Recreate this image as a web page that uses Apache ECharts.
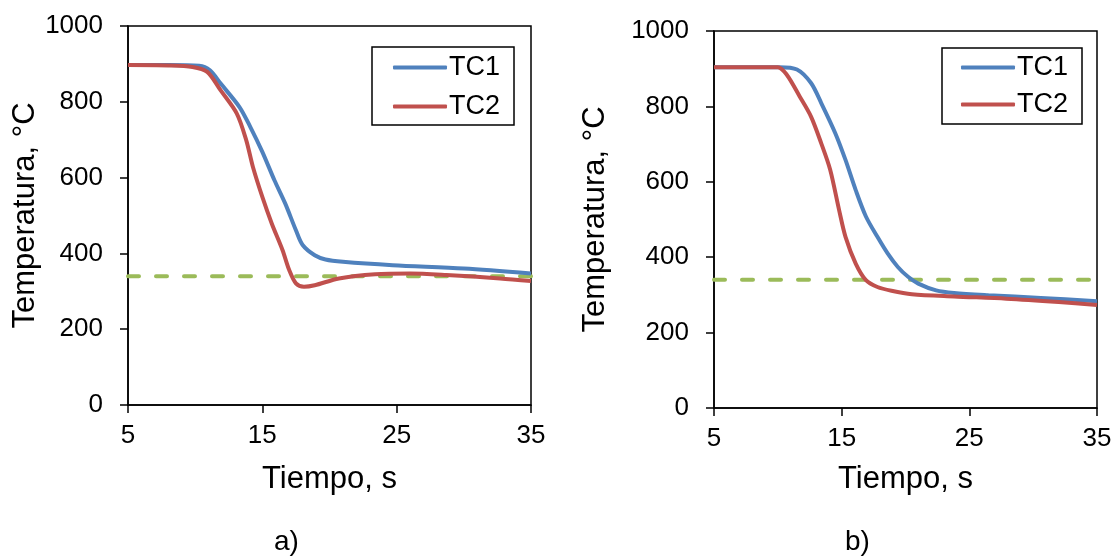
<!DOCTYPE html>
<html>
<head>
<meta charset="utf-8">
<script src="https://cdn.jsdelivr.net/npm/echarts@6/dist/echarts.min.js"></script>
<style>
  html, body { margin: 0; padding: 0; background: #fff; }
  #chart { width: 1117px; height: 556px; }
</style>
</head>
<body>
<div id="chart"></div>
<script>
// Cooling curves, panel a): [time s, temperature °C]
const tc1A = [[5,897],[8,897],[10.3,895],[11.1,883],[11.9,848],[13.3,786],[14.1,734],[15.0,668],[15.9,593],[16.7,532],[17.5,461],[18.0,422],[18.9,395],[19.7,384],[21.0,378],[24.7,369],[30.0,360],[35,347]];
const tc2A = [[5,897],[8,896],[9.8,892],[10.9,879],[11.9,830],[13.1,769],[13.8,699],[14.3,628],[15.0,549],[15.7,479],[16.5,409],[17.0,356],[17.5,321],[18.1,312],[18.9,316],[20.7,334],[23.4,345],[26.0,347],[28.7,343],[32.7,334],[35,327]];

// Cooling curves, panel b)
const tc1B = [[5,904],[10.1,904],[11.5,898],[12.6,862],[13.4,809],[14.5,729],[15.3,658],[16.1,578],[16.9,508],[17.8,454],[18.6,410],[19.4,374],[20.2,348],[21.0,330],[22.4,312],[23.8,305],[26.5,299],[30.6,292],[35,283]];
const tc2B = [[5,904],[10.0,904],[10.7,884],[11.7,827],[12.6,773],[13.4,702],[14.1,632],[14.8,525],[15.3,454],[16.1,383],[16.9,339],[17.8,321],[18.9,311],[20.5,302],[23.8,296],[27.9,290],[32.0,281],[35,273]];

// Reference temperature (dashed line)
const thresholdA = [[5,340],[35,340]];
const thresholdB = [[5,340],[35,340]];

const xTicks = [5, 15, 25, 35];
const yTicks = [0, 200, 400, 600, 800, 1000];
const seriesNames = ['TC1', 'TC2'];
const captions = ['a)', 'b)'];

const FONT = '"Liberation Sans", Arial, sans-serif';
const BLUE = '#4F81BD', RED = '#C0504D', GREEN = '#9BBB59';

const chart = echarts.init(document.getElementById('chart'));

function xAxisDef(gridIndex, gap) {
  return {
    gridIndex, type: 'value', min: xTicks[0], max: xTicks[xTicks.length - 1], interval: 10,
    name: 'Tiempo, s', nameLocation: 'middle', nameGap: gap,
    nameTextStyle: { fontFamily: FONT, fontSize: 31, color: '#000' },
    axisLine: { lineStyle: { color: '#000', width: 1.5 } },
    axisTick: { show: true, length: 8, inside: false, lineStyle: { color: '#000', width: 1.5 } },
    axisLabel: { margin: 18, fontFamily: FONT, fontSize: 26, color: '#000', formatter: v => String(v) },
    splitLine: { show: false }
  };
}
function yAxisDef(gridIndex, gap) {
  return {
    gridIndex, type: 'value', min: yTicks[0], max: yTicks[yTicks.length - 1], interval: 200,
    name: 'Temperatura, °C', nameLocation: 'middle', nameGap: gap,
    nameTextStyle: { fontFamily: FONT, fontSize: 31, color: '#000' },
    axisLine: { lineStyle: { color: '#000', width: 1.5 } },
    axisTick: { show: true, length: 8, inside: false, lineStyle: { color: '#000', width: 1.5 } },
    axisLabel: { margin: 25, fontFamily: FONT, fontSize: 26, color: '#000', formatter: v => String(v) },
    splitLine: { show: false }
  };
}
function curve(name, data, color, idx) {
  return {
    name, type: 'line', data, xAxisIndex: idx, yAxisIndex: idx,
    symbol: 'none', smooth: 0.3,
    lineStyle: { color, width: 4 }, itemStyle: { color }, z: 3
  };
}
function dashed(data, idx) {
  return {
    name: 'ref', type: 'line', data, xAxisIndex: idx, yAxisIndex: idx,
    symbol: 'none', silent: true,
    lineStyle: { color: GREEN, width: 4, type: [11, 17], cap: 'round' }, z: 2
  };
}
function legendDef(left, top, padding, gap) {
  return {
    data: seriesNames.map(n => ({ name: n, icon: 'roundRect' })),
    orient: 'vertical', left, top,
    padding, itemGap: gap, itemWidth: 54, itemHeight: 4,
    borderColor: '#000', borderWidth: 1.5, borderRadius: 0,
    textStyle: { fontFamily: FONT, fontSize: 27, color: '#000', padding: [0, 0, 0, -3] },
    selectedMode: false
  };
}

chart.setOption({
  animation: false,
  backgroundColor: '#fff',
  grid: [
    { left: 128, top: 26, width: 403, height: 379, show: true, borderColor: '#000', borderWidth: 1.5, backgroundColor: 'transparent' },
    { left: 714, top: 31, width: 383, height: 377, show: true, borderColor: '#000', borderWidth: 1.5, backgroundColor: 'transparent' }
  ],
  xAxis: [xAxisDef(0, 59), xAxisDef(1, 56)],
  yAxis: [yAxisDef(0, 77), yAxisDef(1, 103)],
  legend: [legendDef(372, 47, [7, 14, 5, 21], 12), legendDef(942, 48, [6, 14, 6, 19], 10)],
  series: [
    dashed(thresholdA, 0),
    curve('TC1', tc1A, BLUE, 0),
    curve('TC2', tc2A, RED, 0),
    dashed(thresholdB, 1),
    curve('TC1', tc1B, BLUE, 1),
    curve('TC2', tc2B, RED, 1)
  ],
  graphic: [
    { type: 'text', left: 274, top: 528, style: { text: captions[0], font: '28px ' + FONT, fill: '#000' } },
    { type: 'text', left: 845, top: 528, style: { text: captions[1], font: '28px ' + FONT, fill: '#000' } }
  ]
});
</script>
</body>
</html>
